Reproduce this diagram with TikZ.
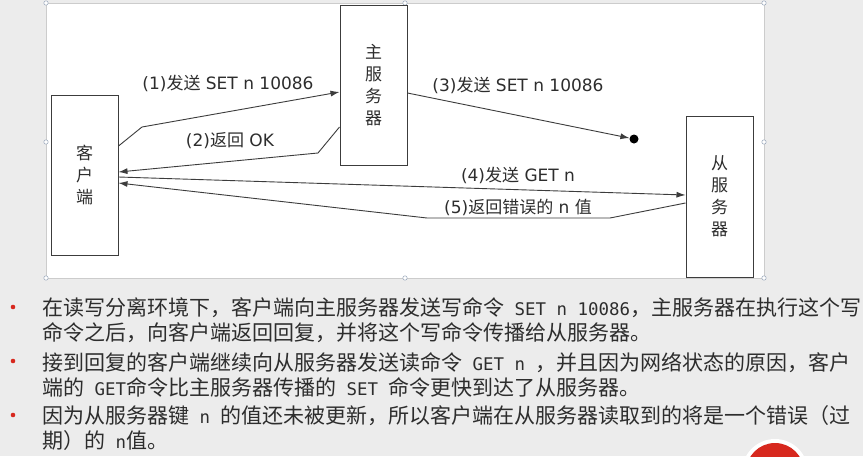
\documentclass[tikz,border=0pt]{standalone}
\usepackage{fontspec}
\setmainfont{DejaVu Sans}
\newfontfamily\cjk{Noto Sans CJK SC}
\newfontfamily\monoascii[Scale=0.83]{DejaVu Sans Mono}
\usetikzlibrary{arrows.meta}
\definecolor{slidebg}{RGB}{236,236,236}
\definecolor{linegray}{RGB}{60,60,60}
\definecolor{textgray}{RGB}{45,45,45}
\definecolor{dotred}{RGB}{215,40,30}
\definecolor{handle}{RGB}{150,165,185}
\tikzset{
  server/.style={draw=linegray,line width=1pt,fill=white,minimum width=67pt,
    minimum height=160pt,inner sep=0pt,align=center,
    font=\cjk\fontsize{17}{22}\selectfont,text=textgray},
  msg/.style={draw=linegray,line width=0.9pt,-{Latex[length=9pt,width=6pt]}},
  msglabel/.style={font=\fontsize{17}{19}\selectfont,text=textgray,inner sep=0pt},
  bullettext/.style={anchor=west,align=left,inner sep=0pt,
    font=\cjk\fontsize{21}{25}\selectfont,text=textgray}
}
\begin{document}
\begin{tikzpicture}[x=1pt,y=-1pt]
\useasboundingbox (0,0) rectangle (863,456);
\fill[slidebg] (0,0) rectangle (863,456);
% red disc of the slide
\begin{scope}
\clip (0,0) rectangle (863,456);
\fill[white] (775,472) circle (33);
\fill[dotred] (775,472) circle (29);
\end{scope}
% frame of the figure
\draw[gray!40,fill=white] (46,3) rectangle (764,278);
\foreach \hx/\hy in {46/3,405/3,764/3,46/142,764/142,46/278,405/278,764/278}
  \draw[handle,fill=white,line width=0.5pt] (\hx,\hy) circle (2.2);

\coordinate (ke) at (84.5,175);
\coordinate (zhu) at (373.5,85);
\coordinate (cong) at (719.5,196.5);
\coordinate (lost) at (634,139);

\coordinate (b1) at (142,127);
\coordinate (b2) at (318,153);
\coordinate (b5a) at (610,218);
\coordinate (b5b) at (427,218);

\node[server] (ke) at (ke){客\\户\\端};
\node[server] (zhu) at (zhu){主\\服\\务\\器};
\node[server,minimum height=161pt] (cong) at (cong){从\\服\\务\\器};
\node[circle,fill=black,inner sep=0pt,minimum size=9pt] (lost) at (lost){};

\draw[msg] ([yshift=29pt]ke.east)--(b1)--([yshift=-7pt]zhu.west);
\draw[msg] ([yshift=-42pt]zhu.west)--(b2)--([yshift=3pt]ke.east);
\draw[msg] ([yshift=-8pt]zhu.east)--(lost);
\draw[msg] ([yshift=-2pt]ke.east)--([yshift=1.5pt]cong.west);
\draw[msg] ([yshift=-6.5pt]cong.west)--(b5a)--(b5b)--([yshift=-8pt]ke.east);

\node[msglabel] (l1) at (228,83) {(1){\cjk 发送} SET n 10086};
\node[msglabel] (l2) at (230,141) {(2){\cjk 返回} OK};
\node[msglabel] (l3) at (518,85) {(3){\cjk 发送} SET n 10086};
\node[msglabel] (l4) at (518,175) {(4){\cjk 发送} GET n};
\node[msglabel] (l5) at (518,207) {(5){\cjk 返回错误的} n {\cjk 值}};

% bullet list
\foreach \by in {307,361,415}
  \fill[dotred] (13,\by) circle (2.3);
\node[bullettext] (p1) at (42,320.5) {在读写分离环境下，客户端向主服务器发送写命令{\monoascii\ SET n 10086}，主服务器在执行这个写\\%
命令之后，向客户端返回回复，并将这个写命令传播给从服务器。};
\node[bullettext] (p2) at (42,375) {接到回复的客户端继续向从服务器发送读命令{\monoascii\ GET n }，并且因为网络状态的原因，客户\\%
端的{\monoascii\ GET}命令比主服务器传播的{\monoascii\ SET }命令更快到达了从服务器。};
\node[bullettext] (p3) at (42,428.5) {因为从服务器键{\monoascii\ n }的值还未被更新，所以客户端在从服务器读取到的将是一个错误（过\\%
期）的{\monoascii\ n}值。};
\end{tikzpicture}
\end{document}
